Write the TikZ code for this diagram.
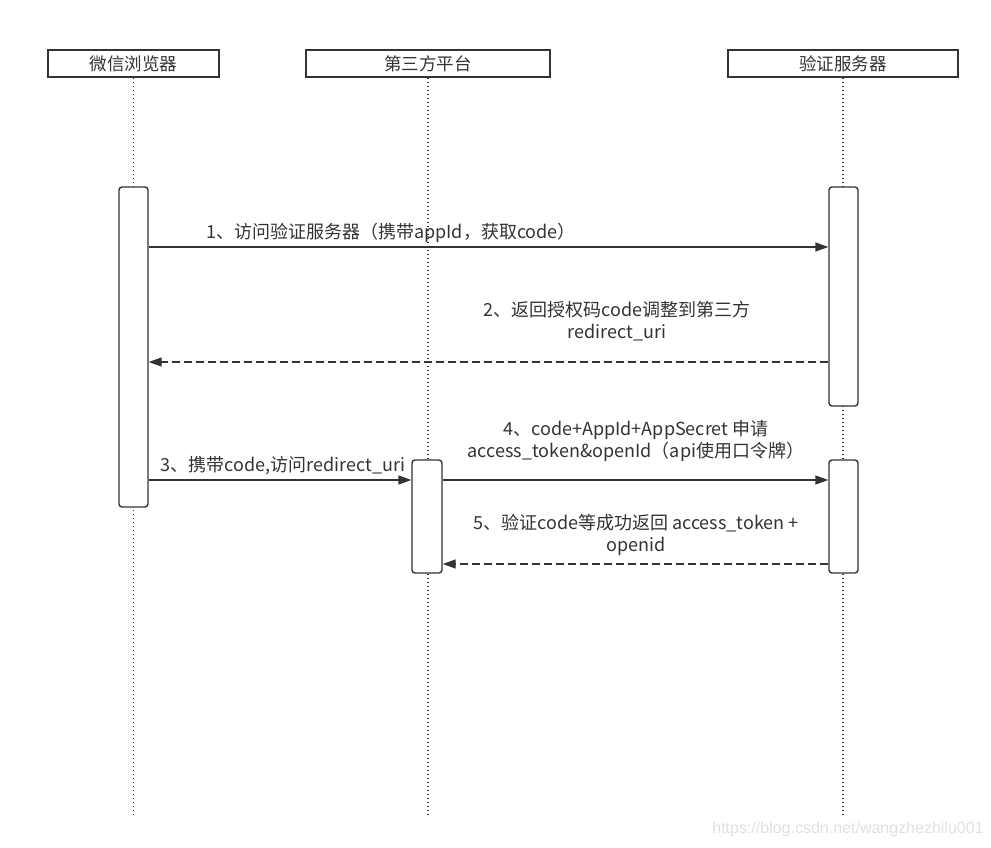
\documentclass[tikz,border=0pt]{standalone}
\usepackage{fontspec}
\setmainfont{Noto Sans CJK SC}
\newfontfamily\wmfont{Liberation Sans}
\usetikzlibrary{arrows.meta}
\definecolor{ink}{HTML}{333333}
\tikzset{
  header/.style={draw=ink, line width=1.4pt, minimum height=27pt, inner sep=0pt, text=ink, font=\fontsize{17.5}{20}\selectfont},
  bar/.style={draw=ink, fill=white, line width=1.4pt, rounded corners=3pt, minimum width=29pt, inner sep=0pt},
  lifeline/.style={ink, line width=1.6pt, dash pattern=on 1.6pt off 2.4pt},
  msg/.style={ink, line width=1.4pt, -{Triangle[length=13pt, width=9pt]}},
  ret/.style={msg, dash pattern=on 8pt off 4pt},
  lbl/.style={text=ink, font=\fontsize{18}{22.5}\selectfont, align=center, inner sep=0pt}
}
\begin{document}
\begin{tikzpicture}[x=1pt, y=-1pt]
\useasboundingbox (0,0) rectangle (991,848);
% headers
\node[header, minimum width=171pt] (hB) at (133.5,63.5) {微信浏览器};
\node[header, minimum width=244pt] (hT) at (428,63.5) {第三方平台};
\node[header, minimum width=230pt] (hS) at (843,63.5) {验证服务器};
% lifeline ends
\coordinate (eB) at (133.5,815);
\coordinate (eT) at (428,815);
\coordinate (eS) at (843,815);
\draw[lifeline] (hB.south) -- (eB);
\draw[lifeline] (hT.south) -- (eT);
\draw[lifeline] (hS.south) -- (eS);
% activation bars
\node[bar, minimum height=320pt] (aB) at (133.5,347) {};
\node[bar, minimum height=219pt] (aS1) at (843.5,296.5) {};
\node[bar, minimum height=113pt, minimum width=30pt] (aT) at (427,516.5) {};
\node[bar, minimum height=113pt] (aS2) at (843.5,516.5) {};
% messages
\draw[msg] (aB.east |- 0,247) -- (aS1.west |- 0,247);
\node[lbl] (l1) at (391,233) {1、访问验证服务器（携带appId，获取code）};
\draw[ret] (aS1.west |- 0,362) -- (aB.east |- 0,362);
\node[lbl] (l2) at (617,321) {2、返回授权码code调整到第三方\\redirect\_uri};
\draw[msg] (aB.east |- 0,480) -- (aT.west |- 0,480);
\node[lbl] (l3) at (283,466) {3、携带code,访问redirect\_uri};
\draw[msg] (aT.east |- 0,480) -- (aS2.west |- 0,480);
\node[lbl] (l4) at (636,441) {4、code+AppId+AppSecret 申请\\access\_token\&openId（api使用口令牌）};
\draw[ret] (aS2.west |- 0,564) -- (aT.east |- 0,564);
\node[lbl] (l5) at (636,535) {5、验证code等成功返回 access\_token +\\openid};
% watermark
\node[text=black!12, font=\wmfont\fontsize{16}{18}\selectfont, inner sep=0pt] (wm) at (848,829) {https://blog.csdn.net/wangzhezhilu001};
\end{tikzpicture}
\end{document}
